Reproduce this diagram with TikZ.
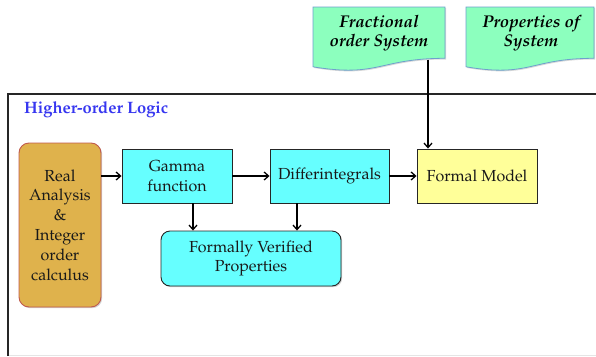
\documentclass[tikz,border=0pt]{standalone}
\usepackage[T1]{fontenc}
\usepackage{mathpazo}
\usetikzlibrary{arrows.meta,shadows,calc}
\definecolor{boxcyan}{RGB}{102,255,255}
\definecolor{boxyellow}{RGB}{255,255,153}
\definecolor{boxgold}{RGB}{223,178,76}
\definecolor{goldedge}{RGB}{192,90,77}
\definecolor{docgreen}{RGB}{140,255,190}
\definecolor{docedge}{RGB}{110,160,205}
\definecolor{hoblue}{RGB}{55,55,240}
\tikzset{
  boxtext/.style={font=\fontsize{16}{19.8}\selectfont, align=center, text=black!90},
  block/.style={boxtext, draw=black!85, line width=0.9pt, inner sep=2pt,
    drop shadow={shadow xshift=1.2pt, shadow yshift=-1.2pt, opacity=0.3, fill=black!60}},
  cyanbox/.style={block, fill=boxcyan},
  doctext/.style={font=\fontsize{17}{19.5}\selectfont\bfseries\itshape, align=center},
  docshape/.style={fill=docgreen, draw=docedge, line width=0.8pt,
    drop shadow={shadow xshift=1pt, shadow yshift=-1.2pt, opacity=0.25, fill=black!60}},
  arr/.style={draw=black, line width=1.3pt, -{Straight Barb[length=4.5pt,width=8pt,line width=1.3pt]}},
}
\begin{document}
\begin{tikzpicture}[x=1pt,y=-1pt]
\useasboundingbox (0,0) rectangle (596,356);

% enclosing frame of the logic layer
\draw[black!10, line width=0.8pt] (8,355.5) -- (596,355.5);
\draw[black!85, line width=2pt] (7.5,356) -- (7.5,93.5) -- (596,93.5);
\node[font=\fontsize{16.5}{18}\selectfont\bfseries, text=hoblue, anchor=base west, inner sep=0pt] (hol) at (24,113) {Higher-order Logic};

% document shapes at the top
\path[docshape] (313,7) -- (445,7) -- (445,58.3)
  .. controls (379,58.3) and (379,77.8) .. (313,66.8) -- cycle;
\node[doctext] (frac) at (379,33.5) {Fractional\\order System};
\path[docshape] (466,7) -- (594,7) -- (594,58.3)
  .. controls (530,58.3) and (530,77.8) .. (466,66.8) -- cycle;
\node[doctext] (props) at (531,33.5) {Properties of\\System};
\coordinate (fracout) at (428,59.5);

% blocks
\node[block, fill=boxgold, draw=goldedge, rounded corners=10pt,
  minimum width=82pt, minimum height=164pt] (real) at (60,225)
  {Real\\Analysis\\\&\\Integer\\order\\calculus};
\node[cyanbox, minimum width=110pt, minimum height=54pt] (gamma) at (177,176) {Gamma\\function};
\node[cyanbox, minimum width=119pt, minimum height=54pt] (diff) at (329.5,176) {Differintegrals};
\node[block, fill=boxyellow, minimum width=120pt, minimum height=54pt] (formal) at (477,176) {Formal Model};
\node[cyanbox, rounded corners=9pt, minimum width=180pt, minimum height=55pt] (fvp) at (251,258.5)
  {Formally Verified\\Properties};

% connectors
\draw[arr] (real.east |- gamma.west) -- (gamma.west);
\draw[arr] (gamma.east) -- (diff.west);
\draw[arr] (diff.east) -- (formal.west);
\draw[arr] ([xshift=16pt]gamma.south) -- ([xshift=16pt]gamma.south |- fvp.north);
\draw[arr] ([xshift=-32.5pt]diff.south) -- ([xshift=-32.5pt]diff.south |- fvp.north);
\draw[arr] (fracout) -- (fracout |- formal.north);
\end{tikzpicture}
\end{document}
